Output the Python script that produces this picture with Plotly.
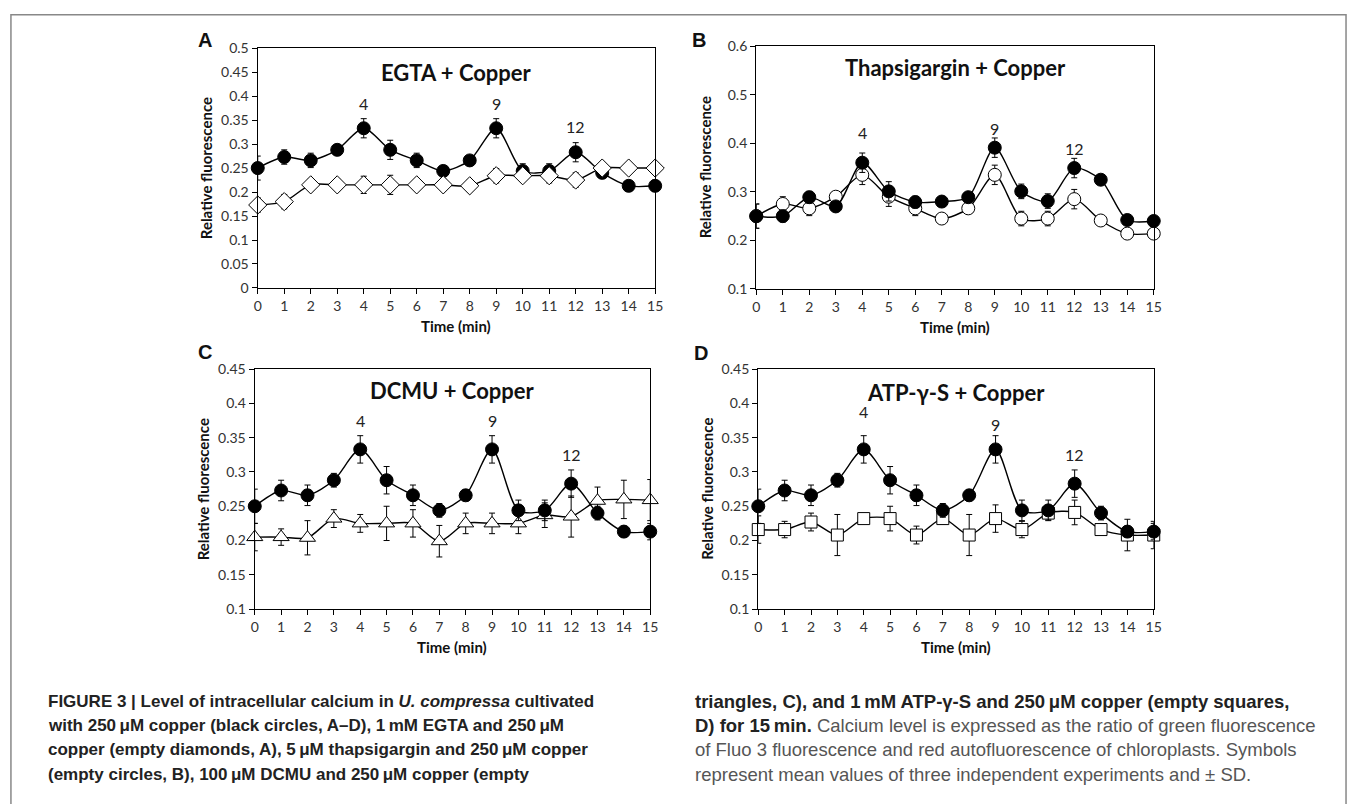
import plotly.graph_objects as go

W, H = 1357, 804

# ---------------- data ----------------
time = list(range(16))

# Panel A: copper (black circles) and EGTA + copper (empty diamonds)
cu_mean = [0.250, 0.273, 0.266, 0.288, 0.333, 0.288, 0.266, 0.244, 0.266, 0.333, 0.244, 0.244, 0.283, 0.240, 0.213, 0.213]
cu_sd = [0.025, 0.015, 0.015, 0.010, 0.020, 0.020, 0.015, 0.010, 0.008, 0.020, 0.015, 0.015, 0.020, 0.010, 0.008, 0.012]
egta_mean = [0.173, 0.180, 0.215, 0.215, 0.215, 0.215, 0.215, 0.215, 0.213, 0.234, 0.234, 0.234, 0.225, 0.250, 0.250, 0.250]
egta_sd = [0.015, 0.015, 0.012, 0.012, 0.018, 0.020, 0.008, 0.012, 0.012, 0.015, 0.010, 0.015, 0.015, 0.008, 0.008, 0.008]

# Panel B: thapsigargin + copper (empty circles) and copper (black circles)
b_cu_mean = [0.250, 0.250, 0.289, 0.270, 0.360, 0.301, 0.279, 0.280, 0.289, 0.391, 0.301, 0.281, 0.349, 0.325, 0.242, 0.240]
b_cu_sd = [0.025, 0.012, 0.012, 0.005, 0.020, 0.020, 0.012, 0.005, 0.005, 0.020, 0.015, 0.015, 0.020, 0.005, 0.005, 0.005]
thap_mean = [0.250, 0.275, 0.266, 0.290, 0.335, 0.290, 0.266, 0.245, 0.266, 0.335, 0.245, 0.245, 0.285, 0.241, 0.214, 0.214]
thap_sd = [0.025, 0.015, 0.015, 0.005, 0.020, 0.020, 0.015, 0.005, 0.005, 0.020, 0.015, 0.015, 0.020, 0.005, 0.005, 0.005]

# Panel C: DCMU + copper (empty triangles)
dcmu_mean = [0.205, 0.205, 0.204, 0.232, 0.225, 0.225, 0.225, 0.199, 0.225, 0.225, 0.225, 0.237, 0.235, 0.258, 0.260, 0.259]
dcmu_sd = [0.020, 0.012, 0.025, 0.013, 0.013, 0.025, 0.020, 0.023, 0.015, 0.015, 0.015, 0.018, 0.030, 0.020, 0.028, 0.030]

# Panel D: ATP-gamma-S + copper (empty squares)
atp_mean = [0.216, 0.216, 0.227, 0.208, 0.232, 0.232, 0.208, 0.232, 0.208, 0.232, 0.216, 0.240, 0.241, 0.216, 0.208, 0.208]
atp_sd = [0.020, 0.012, 0.013, 0.030, 0.005, 0.018, 0.013, 0.008, 0.030, 0.020, 0.012, 0.010, 0.018, 0.005, 0.023, 0.020]

peak_times = [4, 9, 12]

panel_titles = ["EGTA + Copper", "Thapsigargin + Copper", "DCMU + Copper", "ATP-\u03b3-S + Copper"]
panel_letters = ["A", "B", "C", "D"]
y_ranges = [[0, 0.5], [0.1, 0.6], [0.1, 0.45], [0.1, 0.45]]
y_ticks = [
    [0, 0.05, 0.1, 0.15, 0.2, 0.25, 0.3, 0.35, 0.4, 0.45, 0.5],
    [0.1, 0.2, 0.3, 0.4, 0.5, 0.6],
    [0.1, 0.15, 0.2, 0.25, 0.3, 0.35, 0.4, 0.45],
    [0.1, 0.15, 0.2, 0.25, 0.3, 0.35, 0.4, 0.45],
]

# ---------------- layout geometry (pixels) ----------------
boxes = [  # x0, x1, ytop, ybottom
    (256, 657, 40, 285),
    (759, 1160, 38, 286),
    (253, 652, 368, 613),
    (761, 1160, 368, 613),
]
letter_pos = [(203, 32), (701, 32), (203, 350), (703, 351)]
title_ypx = [65, 60, 390, 392]
peak_label_offsets = [
    [0.052, 0.052, 0.054],
    [0.062, 0.040, 0.041],
    [0.042, 0.042, 0.043],
    [0.055, 0.036, 0.043],
]

series = [
    [(cu_mean, cu_sd, "black"), (egta_mean, egta_sd, "diamond")],
    [(thap_mean, thap_sd, "open"), (b_cu_mean, b_cu_sd, "black")],
    [(dcmu_mean, dcmu_sd, "triangle"), (cu_mean, cu_sd, "black")],
    [(atp_mean, atp_sd, "square"), (cu_mean, cu_sd, "black")],
]
peak_series = [cu_mean, b_cu_mean, cu_mean, cu_mean]

marker_styles = {
    "black": dict(symbol="circle", size=13, color="black", line=dict(color="black", width=1)),
    "open": dict(symbol="circle", size=13, color="white", line=dict(color="black", width=1)),
    "diamond": dict(symbol="diamond", size=14, color="white", line=dict(color="black", width=1)),
    "triangle": dict(symbol="triangle-up", size=14, color="white", line=dict(color="black", width=1)),
    "square": dict(symbol="square", size=12, color="white", line=dict(color="black", width=1)),
}

tick_font = dict(family="Lato, Carlito, Open Sans, sans-serif", size=14, color="#333")
lab_family = "Lato, Open Sans, sans-serif"
fig = go.Figure()
annotations = []
shapes = []

for i in range(4):
    x0, x1, yt, yb = boxes[i]
    xa = "x" if i == 0 else f"x{i+1}"
    ya = "y" if i == 0 else f"y{i+1}"
    axname = "" if i == 0 else str(i + 1)
    for mean, sd, style in series[i]:
        fig.add_trace(go.Scatter(
            x=time, y=mean, mode="lines+markers",
            line=dict(color="black", width=1.4, shape="spline", smoothing=0.8),
            marker=marker_styles[style],
            error_y=dict(type="data", array=sd, color="black", thickness=1, width=3),
            xaxis=xa, yaxis=ya, showlegend=False, cliponaxis=False,
        ))
    fig.layout["xaxis" + axname] = dict(
        domain=[x0 / W, x1 / W], anchor=ya, range=[0, 15],
        tickmode="array", tickvals=time, ticktext=[str(t) for t in time],
        ticks="outside", ticklen=5, tickcolor="black", tickwidth=1,
        showline=True, linecolor="black", linewidth=1.4, mirror=True,
        showgrid=False, zeroline=False, tickfont=tick_font,
    )
    fig.layout["yaxis" + axname] = dict(
        domain=[1 - yb / H, 1 - yt / H], anchor=xa, range=y_ranges[i],
        tickmode="array", tickvals=y_ticks[i], ticktext=[f"{v:g}" for v in y_ticks[i]],
        ticks="outside", ticklen=5, tickcolor="black", tickwidth=1,
        showline=True, linecolor="black", linewidth=1.4, mirror=True,
        showgrid=False, zeroline=False, tickfont=tick_font,
    )
    # panel title
    annotations.append(dict(
        text=f"<b>{panel_titles[i]}</b>", x=(x0 + x1) / 2 / W, y=1 - title_ypx[i] / H,
        xref="paper", yref="paper", showarrow=False, xanchor="center", yanchor="middle",
        font=dict(family=lab_family, size=22, color="#111"),
    ))
    # peak labels
    for k, t in enumerate(peak_times):
        annotations.append(dict(
            text=str(t), x=t, y=peak_series[i][t] + peak_label_offsets[i][k],
            xref=xa, yref=ya, showarrow=False, xanchor="center", yanchor="middle",
            font=dict(family=lab_family, size=16, color="#222"),
        ))
    # axis titles
    annotations.append(dict(
        text="<b>Relative fluorescence</b>", x=(x0 - 52) / W, y=1 - (yt + yb) / 2 / H,
        xref="paper", yref="paper", showarrow=False, textangle=-90,
        xanchor="center", yanchor="middle",
        font=dict(family=lab_family, size=15, color="#111"),
    ))
    annotations.append(dict(
        text="<b>Time (min)</b>", x=(x0 + x1) / 2 / W, y=1 - (yb + 39) / H,
        xref="paper", yref="paper", showarrow=False,
        xanchor="center", yanchor="middle",
        font=dict(family=lab_family, size=15, color="#111"),
    ))
    # panel letter
    lx, ly = letter_pos[i]
    annotations.append(dict(
        text=f"<b>{panel_letters[i]}</b>", x=lx / W, y=1 - ly / H,
        xref="paper", yref="paper", showarrow=False, xanchor="center", yanchor="middle",
        font=dict(family="Liberation Sans, Arial, sans-serif", size=20, color="#111"),
    ))

# ---------------- caption ----------------
cap_font = "Liberation Sans, Arial, sans-serif"
left_lines = [
    "<b>FIGURE 3 | Level of intracellular calcium in <i>U. compressa</i> cultivated</b>",
    "<b>with 250\u2009\u03bcM copper (black circles, A\u2013D), 1\u2009mM EGTA and 250\u2009\u03bcM</b>",
    "<b>copper (empty diamonds, A), 5\u2009\u03bcM thapsigargin and 250\u2009\u03bcM copper</b>",
    "<b>(empty circles, B), 100\u2009\u03bcM DCMU and 250\u2009\u03bcM copper (empty</b>",
]
right_lines = [
    "<b>triangles, C), and 1\u2009mM ATP-\u03b3-S and 250\u2009\u03bcM copper (empty squares,</b>",
    "<b>D) for 15\u2009min.</b> <span style='color:#555'>Calcium level is expressed as the ratio of green fluorescence</span>",
    "<span style='color:#555'>of Fluo 3 fluorescence and red autofluorescence of chloroplasts. Symbols</span>",
    "<span style='color:#555'>represent mean values of three independent experiments and \u00b1 SD.</span>",
]
cap_y = [707, 732, 757, 782]
for j, line in enumerate(left_lines):
    annotations.append(dict(
        text=line, x=42 / W, y=1 - cap_y[j] / H, xref="paper", yref="paper",
        showarrow=False, xanchor="left", yanchor="middle",
        font=dict(family=cap_font, size=17, color="#222"),
    ))
for j, line in enumerate(right_lines):
    annotations.append(dict(
        text=line, x=695 / W, y=1 - cap_y[j] / H, xref="paper", yref="paper",
        showarrow=False, xanchor="left", yanchor="middle",
        font=dict(family=cap_font, size=18.5, color="#222"),
    ))

# outer frame
shapes.append(dict(type="rect", xref="paper", yref="paper",
                   x0=7 / W, x1=1354 / W, y0=-0.05, y1=1 - 6 / H,
                   line=dict(color="#888", width=1.5), fillcolor="rgba(0,0,0,0)"))

fig.update_layout(
    width=W, height=H, margin=dict(l=0, r=0, t=0, b=0),
    paper_bgcolor="white", plot_bgcolor="white",
    annotations=annotations, shapes=shapes, showlegend=False,
)

fig.write_html("out.html")
